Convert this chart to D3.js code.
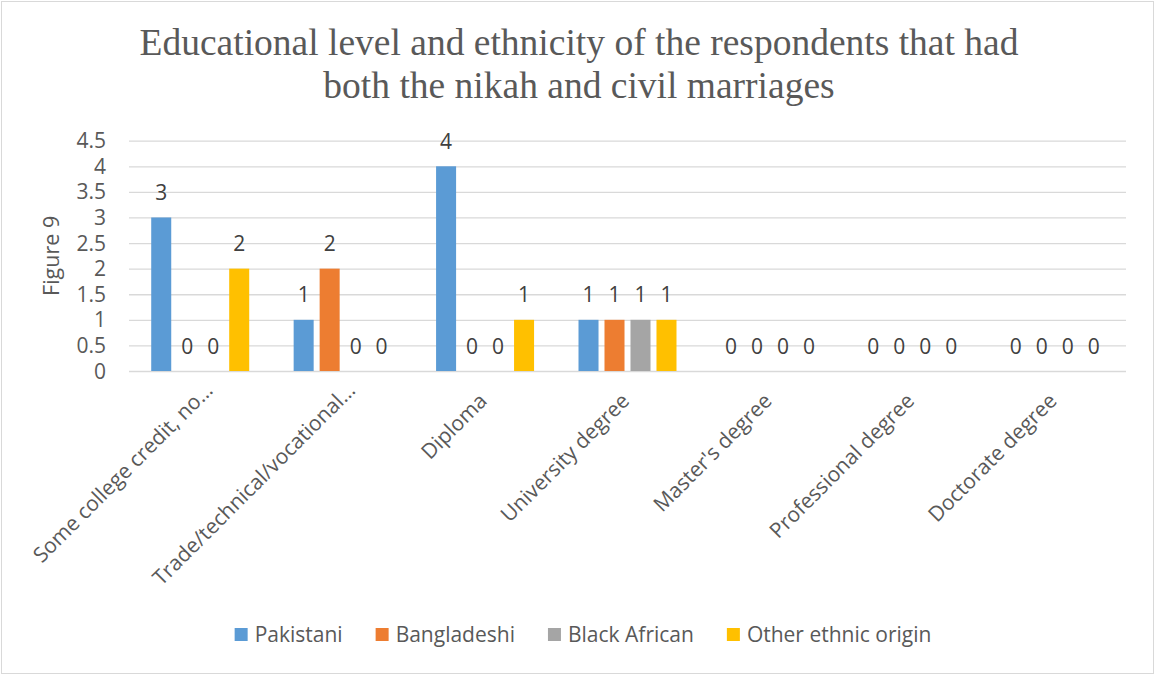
<!DOCTYPE html>
<html>
<head>
<meta charset="utf-8">
<script src="https://cdn.jsdelivr.net/npm/d3@7"></script>
<style>
  html, body { margin: 0; padding: 0; background: #fff; }
  svg { display: block; }
</style>
</head>
<body>
<svg id="chart" width="1155" height="675"></svg>
<script>
const titleLines = ["Educational level and ethnicity of the respondents that had", "both the nikah and civil marriages"];
const yAxisTitle = "Figure 9";
const categories = ["Some college credit, no\u2026", "Trade/technical/vocational\u2026", "Diploma", "University degree", "Master's degree", "Professional degree", "Doctorate degree"];
const seriesNames = ["Pakistani", "Bangladeshi", "Black African", "Other ethnic origin"];
const pakistani    = [3, 1, 4, 1, 0, 0, 0];
const bangladeshi  = [0, 2, 0, 1, 0, 0, 0];
const blackAfrican = [0, 0, 0, 1, 0, 0, 0];
const otherEthnic  = [2, 0, 1, 1, 0, 0, 0];
const yTicks = [0, 0.5, 1, 1.5, 2, 2.5, 3, 3.5, 4, 4.5];
const colors = ["#5B9BD5", "#ED7D31", "#A5A5A5", "#FFC000"];

const seriesValues = [pakistani, bangladeshi, blackAfrican, otherEthnic];
const svg = d3.select("#chart");
const W = 1155, H = 675;
const sans = "'Open Sans', sans-serif";

// chart border
svg.append("rect").attr("x", 1.5).attr("y", 1.5).attr("width", W - 3).attr("height", H - 3)
  .attr("fill", "#fff").attr("stroke", "#D9D9D9").attr("stroke-width", 1);

// title
svg.append("g").selectAll("text").data(titleLines).join("text")
  .attr("x", 579).attr("y", (d, i) => 55 + i * 43)
  .attr("text-anchor", "middle")
  .attr("font-family", "'Liberation Serif', 'Times New Roman', serif")
  .attr("font-size", 37.5).attr("fill", "#595959")
  .text(d => d);

const plot = { left: 129, right: 1126, top: 140.7, bottom: 371 };
const x = d3.scaleBand().domain(categories).range([plot.left, plot.right]).paddingInner(0).paddingOuter(0);
const groupW = x.bandwidth() * 0.688;
const xs = d3.scaleBand().domain(seriesNames).range([-groupW / 2, groupW / 2]).paddingInner(0.23).paddingOuter(0);
const y = d3.scaleLinear().domain([0, 4.5]).range([plot.bottom, plot.top]);

// gridlines
const yAxis = d3.axisLeft(y).tickValues(yTicks).tickSize(-(plot.right - plot.left)).tickFormat("");
const ga = svg.append("g").attr("transform", `translate(${plot.left},0)`).call(yAxis);
ga.select(".domain").remove();
ga.selectAll(".tick line").attr("stroke", "#D9D9D9").attr("stroke-width", 1.3);

// tick labels
svg.append("g").selectAll("text").data(yTicks).join("text")
  .attr("x", 106).attr("y", d => y(d)).attr("dy", "0.36em")
  .attr("text-anchor", "end").attr("font-family", sans).attr("font-size", 21).attr("fill", "#595959")
  .text(d => d3.format("")(d));

// y axis title
svg.append("text")
  .attr("transform", `translate(58.5, ${(plot.top + plot.bottom) / 2}) rotate(-90)`)
  .attr("text-anchor", "middle").attr("font-family", sans).attr("font-size", 21.5).attr("fill", "#595959")
  .text(yAxisTitle);

// bars
const flat = [];
seriesNames.forEach((s, si) => categories.forEach((c, ci) => flat.push({ s, si, c, v: seriesValues[si][ci] })));
const bars = svg.append("g");
bars.selectAll("rect").data(flat.filter(d => d.v > 0)).join("rect")
  .attr("x", d => x(d.c) + x.bandwidth() / 2 + xs(d.s))
  .attr("width", xs.bandwidth())
  .attr("y", d => y(d.v))
  .attr("height", d => y(0) - y(d.v))
  .attr("fill", d => colors[d.si]);

// data labels
svg.append("g").selectAll("text").data(flat).join("text")
  .attr("x", d => x(d.c) + x.bandwidth() / 2 + xs(d.s) + xs.bandwidth() / 2)
  .attr("y", d => y(d.v) - 17.5)
  .attr("text-anchor", "middle").attr("font-family", sans).attr("font-size", 21).attr("fill", "#404040")
  .text(d => d.v);

// category labels
svg.append("g").selectAll("text").data(categories).join("text")
  .attr("transform", d => `translate(${x(d) + x.bandwidth() / 2 - 2}, 397) rotate(-45)`)
  .attr("dy", "0.35em")
  .attr("dx", d => d.endsWith("\u2026") ? 15 : 0)
  .attr("text-anchor", "end").attr("font-family", sans).attr("font-size", 21).attr("fill", "#595959")
  .text(d => d);

// legend
const lg = svg.append("g");
const items = lg.selectAll("g").data(seriesNames).join("g");
items.append("rect").attr("width", 13).attr("height", 13).attr("y", 628).attr("fill", (d, i) => colors[i]);
items.append("text").attr("x", 20).attr("y", 641.5)
  .attr("font-family", sans).attr("font-size", 21).attr("fill", "#595959").text(d => d);
let cx = 0;
const offs = [];
items.each(function () {
  offs.push(cx);
  const tw = d3.select(this).select("text").node().getComputedTextLength();
  cx += 20 + tw + 33;
});
const total = cx - 33;
const startX = 583 - total / 2;
items.attr("transform", (d, i) => `translate(${startX + offs[i]},0)`);
</script>
</body>
</html>
